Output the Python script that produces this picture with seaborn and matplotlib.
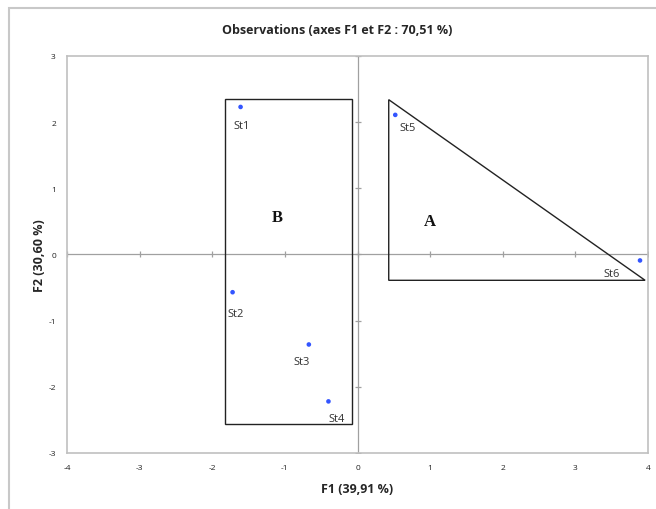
import numpy as np
import matplotlib
matplotlib.use("Agg")
import matplotlib.pyplot as plt
import seaborn as sns
from matplotlib.patches import Rectangle, Polygon

# observations (F1, F2)
stations = ["St1", "St2", "St3", "St4", "St5", "St6"]
f1 = [-1.61, -1.72, -0.67, -0.40, 0.52, 3.89]
f2 = [2.23, -0.57, -1.36, -2.22, 2.11, -0.09]

# groupe B (rectangle) et groupe A (triangle)
box_b = [-1.83, -2.56, -0.07, 2.35]  # x0, y0, x1, y1
tri_a = [(0.43, 2.34), (0.43, -0.39), (3.96, -0.39)]
group_labels = ["B", "A"]
group_pos = [(-1.10, 0.56), (1.00, 0.51)]

xticks = [-4, -3, -2, -1, 0, 1, 2, 3, 4]
yticks = [-3, -2, -1, 0, 1, 2, 3]

# décalages des étiquettes (en pixels)
label_offsets = [(-7, -19), (-5, -21), (-15, -17), (0, -17), (4, -13), (-37, -13)]

sns.set_theme(style="white")
plt.rcParams['font.family'] = ['Open Sans', 'DejaVu Sans']
plt.rcParams['axes.unicode_minus'] = False

fig = plt.figure(figsize=(6.56, 5.10), dpi=100)
ax = fig.add_axes([67/656, 1-454/510, 581/656, 397/510])

# cadre extérieur du graphique
fig.patches.append(Rectangle((9/656, -0.1), 1.2, 1-9/510+0.1, transform=fig.transFigure,
                             fill=False, edgecolor="#c8c8c8", lw=1.5))

sns.scatterplot(x=f1, y=f2, ax=ax, color="#3355ff", s=11, edgecolor="none", zorder=5)

for name, x, y, (dx, dy) in zip(stations, f1, f2, label_offsets):
    ax.annotate(name, (x, y), xytext=(dx*0.72, dy*0.72), textcoords="offset points",
                ha="left", va="center", fontsize=8, color="#333333")

# axes centraux avec graduations
ax.axhline(0, color="#a0a0a0", lw=0.9, zorder=1)
ax.axvline(0, color="#a0a0a0", lw=0.9, zorder=1)
ax.plot(xticks, np.zeros(len(xticks)), ls="none", marker="|", ms=5, color="#a0a0a0", mew=0.9)
ax.plot(np.zeros(len(yticks)), yticks, ls="none", marker="_", ms=5, color="#a0a0a0", mew=0.9)

x0, y0, x1, y1 = box_b
ax.add_patch(Rectangle((x0, y0), x1-x0, y1-y0, fill=False, edgecolor="#222222", lw=1.0, zorder=3))
ax.add_patch(Polygon(tri_a, closed=True, fill=False, edgecolor="#222222", lw=1.0, zorder=3))

for lab, (x, y) in zip(group_labels, group_pos):
    ax.text(x, y, lab, ha="center", va="center", fontsize=12, fontweight="bold",
            family="Liberation Serif", color="#111111")

ax.set_xlim(-4, 4)
ax.set_ylim(-3, 3)
ax.set_xticks(xticks)
ax.set_yticks(yticks)
ax.tick_params(length=0, labelsize=6, colors="#222222", pad=8)
for s in ax.spines.values():
    s.set_color("#c0c0c0")
    s.set_linewidth(1.2)

ax.set_xlabel("F1 (39,91 %)", fontsize=9, fontweight="bold", labelpad=8)
ax.set_ylabel("F2 (30,60 %)", fontsize=9, fontweight="bold", labelpad=2)
fig.text(337/656, 1-31/510, "Observations (axes F1 et F2 : 70,51 %)", ha="center", va="center",
         fontsize=9, fontweight="bold")

fig.savefig("out.png", dpi=100)
